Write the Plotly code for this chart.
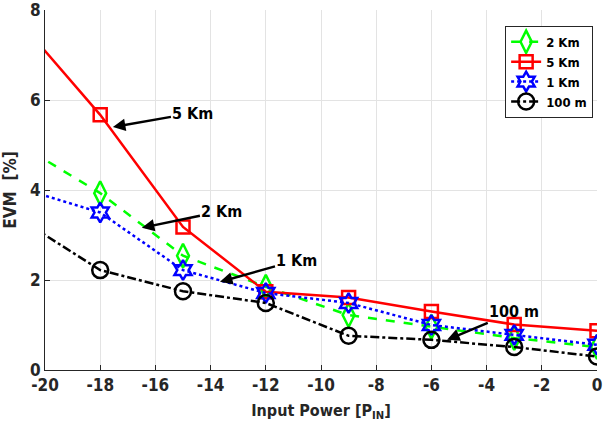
import plotly.graph_objects as go

# Data (x = -21 point lies outside the axis range, line enters from the left edge)
x_vals = [-21, -18, -15, -12, -9, -6, -3, 0]
evm_2km = [5.04, 3.93, 2.54, 1.85, 1.22, 0.96, 0.71, 0.51]
evm_5km = [7.80, 5.67, 3.18, 1.74, 1.61, 1.30, 1.01, 0.87]
evm_1km = [4.06, 3.50, 2.22, 1.71, 1.49, 1.00, 0.78, 0.56]
evm_100m = [3.39, 2.22, 1.75, 1.49, 0.76, 0.67, 0.51, 0.30]

x_ticks = [-20, -18, -16, -14, -12, -10, -8, -6, -4, -2, 0]
y_ticks = [0, 2, 4, 6, 8]

FONT = "DejaVu Sans Condensed, Liberation Sans Narrow, Liberation Sans, sans-serif"
AX = "#262626"

fig = go.Figure()

series = [
    ("2 Km", evm_2km, "#00ff00", "dash", "diamond-tall-open", 17),
    ("5 Km", evm_5km, "#ff0000", "solid", "square-open", 13),
    ("1 Km", evm_1km, "#0000ff", "dot", "hexagram-open", 15),
    ("100 m", evm_100m, "#000000", "dashdot", "circle-open", 16),
]
for name, vals, color, dash, sym, size in series:
    fig.add_trace(go.Scatter(
        x=x_vals, y=vals, name=name, mode="lines+markers",
        line=dict(color=color, width=2.5, dash=dash),
        marker=dict(symbol=sym, size=size, color=color, line=dict(width=2.5, color=color)),
    ))

annos = [
    ("5 Km", -17.54, 5.40, -14.64, 5.71),
    ("2 Km", -16.49, 3.16, -13.59, 3.53),
    ("1 Km", -13.66, 1.96, -10.87, 2.44),
    ("100 m", -5.43, 0.67, -3.0, 1.29),
]
for txt, hx, hy, tx, ty in annos:
    fig.add_annotation(
        x=hx, y=hy, ax=tx, ay=ty, axref="x", ayref="y", xref="x", yref="y",
        text="<b>%s</b>" % txt, showarrow=True, arrowhead=2, arrowsize=1,
        arrowwidth=2.5, arrowcolor="black",
        font=dict(family=FONT, size=16, color="black"),
    )

fig.update_layout(
    width=606, height=448,
    margin=dict(l=45, r=9, t=10, b=78),
    paper_bgcolor="white", plot_bgcolor="white",
    font=dict(family=FONT, size=17, color=AX),
    showlegend=True,
    legend=dict(
        x=0.993, y=0.956, xanchor="right", yanchor="top",
        bgcolor="white", bordercolor=AX, borderwidth=1,
        font=dict(family=FONT, size=13, color="black", weight="bold"),
        itemwidth=30, tracegroupgap=0,
    ),
    xaxis=dict(
        range=[-20, 0], tickvals=x_ticks, ticktext=["<b>%d</b>" % v for v in x_ticks],
        automargin=False, ticklabeloverflow="allow",
        showgrid=True, gridcolor="#e3e3e3", gridwidth=1, zeroline=False,
        showline=True, linecolor=AX, linewidth=1, mirror=False,
        ticks="inside", ticklen=5, tickcolor=AX,
        title=dict(text="<b>Input Power [P<sub>IN</sub>]</b>", font=dict(size=16, color=AX), standoff=10),
    ),
    yaxis=dict(
        range=[0, 8], tickvals=y_ticks, ticktext=["<b>%d</b>" % v for v in y_ticks],
        automargin=False, ticklabeloverflow="allow",
        showgrid=True, gridcolor="#e3e3e3", gridwidth=1, zeroline=False,
        showline=True, linecolor=AX, linewidth=1, mirror=False,
        ticks="inside", ticklen=5, tickcolor=AX,
        title=dict(text="<b>EVM  [%]</b>", font=dict(size=17, color=AX), standoff=8),
    ),
)

# remove the browser's default page margin so the figure fills the window
fig.write_html(
    "out.html",
    config={"displayModeBar": False},
    post_script="document.body.style.margin='0';document.body.style.overflow='hidden';",
)
